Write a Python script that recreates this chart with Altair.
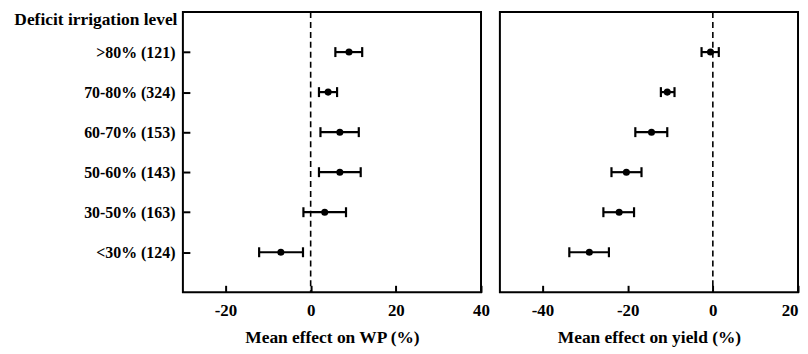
import altair as alt
import pandas as pd

levels = [">80% (121)", "70-80% (324)", "60-70% (153)", "50-60% (143)", "30-50% (163)", "<30% (124)"]
wp_mean = [9.0, 4.1, 6.85, 6.85, 3.3, -7.0]
wp_low = [5.8, 1.95, 2.3, 1.95, -1.7, -12.1]
wp_high = [12.1, 6.2, 11.3, 11.75, 8.3, -1.8]
yield_mean = [-0.55, -10.7, -14.4, -20.3, -22.0, -29.0]
yield_low = [-2.65, -12.2, -18.2, -23.8, -25.7, -33.7]
yield_high = [1.4, -9.0, -10.7, -16.75, -18.5, -24.4]

wp_ticks = [-20, 0, 20, 40]
yield_ticks = [-40, -20, 0, 20]

FONT = "Liberation Serif"


def panel(mean, low, high, domain, ticks, title, show_y, flush):
    df = pd.DataFrame({"level": levels, "mean": mean, "low": low, "high": high})
    xax = alt.Axis(values=ticks, title=title, offset=-7, tickSize=7, tickWidth=2,
                   tickColor="black", domain=False, grid=False, labelFlush=flush,
                   labelExpr="'' + datum.value",
                   labelFont=FONT, labelFontWeight="bold", labelFontSize=17,
                   labelColor="black", labelPadding=10,
                   titleFont=FONT, titleFontWeight="bold", titleFontSize=17.5,
                   titleColor="black", titlePadding=11)
    if show_y:
        yax = alt.Axis(title="Deficit irrigation level", offset=-7, tickSize=7, tickWidth=2,
                       tickColor="black", domain=False, grid=False,
                       labelFont=FONT, labelFontWeight="bold", labelFontSize=16,
                       labelColor="black", labelPadding=8,
                       titleFont=FONT, titleFontWeight="bold", titleFontSize=17.5,
                       titleColor="black", titleAngle=0, titleAlign="right",
                       titleBaseline="middle", titleX=-13, titleY=8)
    else:
        yax = None
    xs = alt.Scale(domain=domain, nice=False, zero=False)
    ys = alt.Scale(type="point", padding=1)
    base = alt.Chart(df)
    line = base.mark_rule(color="black", strokeWidth=2.2).encode(
        x=alt.X("low:Q", scale=xs, axis=xax),
        x2="high:Q",
        y=alt.Y("level:N", sort=levels, scale=ys, axis=yax),
    )
    cap_l = base.mark_tick(color="black", thickness=2.2, size=10, opacity=1).encode(
        x="low:Q", y=alt.Y("level:N", sort=levels))
    cap_h = base.mark_tick(color="black", thickness=2.2, size=10, opacity=1).encode(
        x="high:Q", y=alt.Y("level:N", sort=levels))
    pts = base.mark_circle(color="black", size=50, opacity=1).encode(
        x="mean:Q", y=alt.Y("level:N", sort=levels))
    zero = alt.Chart(pd.DataFrame({"z": [0]})).mark_rule(
        color="black", strokeWidth=1.6, strokeDash=[6, 4]).encode(x="z:Q")
    return alt.layer(zero, line, cap_l, cap_h, pts).properties(width=300, height=282)


left = panel(wp_mean, wp_low, wp_high, [-30, 40], wp_ticks, "Mean effect on WP (%)", True, False)
right = panel(yield_mean, yield_low, yield_high, [-50, 20], yield_ticks, "Mean effect on yield (%)", False, True)

chart = alt.hconcat(left, right, spacing=19, bounds="flush").properties(
    padding={"left": 4, "top": 1, "right": 0, "bottom": 0},
    background="white",
).configure_view(stroke="black", strokeWidth=2)

chart.save("out.html", embed_options={"renderer": "svg", "actions": False})
